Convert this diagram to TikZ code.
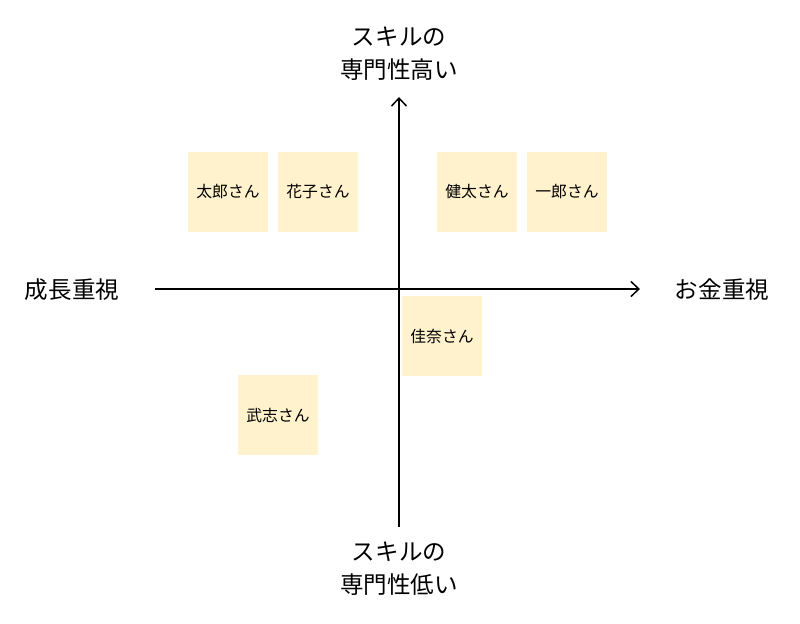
\documentclass[tikz,border=0pt]{standalone}
\usepackage{fontspec}
\setmainfont{Noto Sans CJK JP}
\usepackage{xcolor}
\usepackage{tikz}
\usetikzlibrary{arrows.meta}
\definecolor{memo}{HTML}{FFF2CC}
\tikzset{
  person/.style={fill=memo,minimum width=1.6cm,minimum height=1.6cm,inner sep=0pt,font=\fontsize{9}{11}\selectfont},
  axislabel/.style={align=center,inner sep=0pt,font=\fontsize{13.4}{18.8}\selectfont}
}
\begin{document}
\begin{tikzpicture}[x=0.02cm,y=-0.02cm,>={Straight Barb[length=0.16cm,width=0.3cm]}]
\useasboundingbox(0,0)rectangle(800,623);
% axes
\coordinate(left)at(155,289);
\coordinate(right)at(640,289);
\coordinate(bottom)at(399,527);
\coordinate(top)at(399,97);
\draw[line width=0.85pt,->](left)--(right);
\draw[line width=0.85pt,->](bottom)--(top);
% labels
\node[axislabel](high)at(399,53.5){スキルの\\専門性高い};
\node[axislabel](low)at(399,568.5){スキルの\\専門性低い};
\node[axislabel](growth)at(72,290){成長重視};
\node[axislabel](money)at(722,290){お金重視};
% people
\node[person](taro)at(228,192){太郎さん};
\node[person](hanako)at(318,192){花子さん};
\node[person](kenta)at(477,192){健太さん};
\node[person](ichiro)at(567,192){一郎さん};
\node[person](kana)at(442,336){佳奈さん};
\node[person](takeshi)at(278,415){武志さん};
\end{tikzpicture}
\end{document}
